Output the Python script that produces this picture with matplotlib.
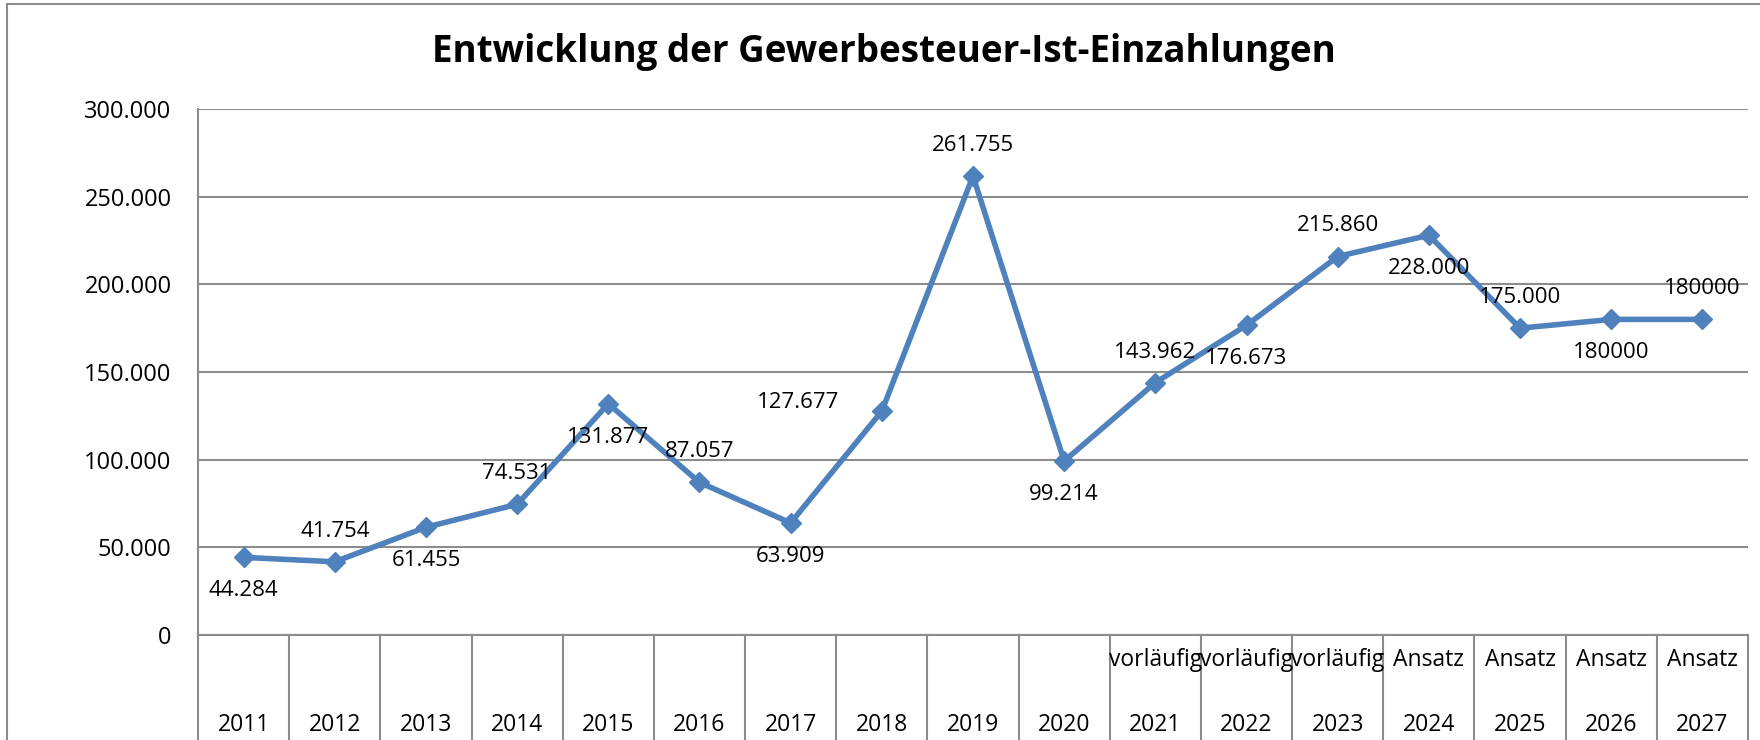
import numpy as np
import matplotlib
matplotlib.use("Agg")
import matplotlib.pyplot as plt
from matplotlib.patches import Rectangle

plt.rcParams['font.family'] = ['Open Sans', 'DejaVu Sans']

# Daten
jahre = ['2011', '2012', '2013', '2014', '2015', '2016', '2017', '2018', '2019',
         '2020', '2021', '2022', '2023', '2024', '2025', '2026', '2027']
zusatz = ['', '', '', '', '', '', '', '', '', '',
          'vorläufig', 'vorläufig', 'vorläufig', 'Ansatz', 'Ansatz', 'Ansatz', 'Ansatz']
werte = [44284, 41754, 61455, 74531, 131877, 87057, 63909, 127677, 261755,
         99214, 143962, 176673, 215860, 228000, 175000, 180000, 180000]
beschriftung = ['44.284', '41.754', '61.455', '74.531', '131.877', '87.057', '63.909',
                '127.677', '261.755', '99.214', '143.962', '176.673', '215.860',
                '228.000', '175.000', '180000', '180000']
# Lage der Beschriftung: o = oben, u = unten, l = links
lage = ['u', 'o', 'u', 'o', 'u', 'o', 'u', 'l', 'o', 'u', 'o', 'u', 'o', 'u', 'o', 'u', 'o']
yticks = [0, 50000, 100000, 150000, 200000, 250000, 300000]

blau = '#4F81BD'
grau = '#8C8C8C'

W, H = 1760, 740
fig = plt.figure(figsize=(W / 100, H / 100), dpi=100)

# Rahmen des Diagramms (geht über den Rand hinaus)
fig.patches.append(Rectangle((7 / W, -0.1), 1.2, (H - 4) / H + 0.1, transform=fig.transFigure,
                             fill=False, edgecolor=grau, linewidth=1.5))

ax = fig.add_axes([198 / W, (H - 635) / H, 1550 / W, 526 / H])
x = np.arange(len(jahre))

ax.set_xlim(-0.5, len(jahre) - 0.5)
ax.set_ylim(0, 300000)
ax.set_yticks(yticks)
ax.set_yticklabels(['{:,}'.format(v).replace(',', '.') for v in yticks], fontsize=17)
ax.tick_params(axis='y', length=0, pad=19)
ax.set_xticks([])
ax.grid(axis='y', color=grau, linewidth=1.5)
ax.set_axisbelow(True)
for s in ['top', 'right']:
    ax.spines[s].set_visible(False)
ax.spines['left'].set_color(grau)
ax.spines['left'].set_linewidth(1.5)
ax.spines['bottom'].set_color(grau)
ax.spines['bottom'].set_linewidth(1.5)

ax.plot(x, werte, color=blau, linewidth=4, marker='D', markersize=10,
        markerfacecolor=blau, markeredgecolor=blau, zorder=3)

for xi, v, t, l in zip(x, werte, beschriftung, lage):
    if l == 'o':
        ax.annotate(t, (xi, v), xytext=(0, 22), textcoords='offset points',
                    ha='center', va='center', fontsize=16)
    elif l == 'u':
        ax.annotate(t, (xi, v), xytext=(0, -24), textcoords='offset points',
                    ha='center', va='center', fontsize=16)
    else:
        ax.annotate(t, (xi, v), xytext=(-60, 6), textcoords='offset points',
                    ha='center', va='center', fontsize=16)

# Kategorienachse mit Gitterlinien
tr = ax.get_xaxis_transform()
for b in np.arange(-0.5, len(jahre), 1.0):
    ax.plot([b, b], [0, -0.25], transform=tr, color=grau, linewidth=1.5, clip_on=False)
for xi, j, z in zip(x, jahre, zusatz):
    ax.text(xi, -25 / 526, z, transform=tr, ha='center', va='center', fontsize=16.5)
    ax.text(xi, -90 / 526, j, transform=tr, ha='center', va='center', fontsize=16.5)

fig.text(884 / W, 1 - 52 / H, 'Entwicklung der Gewerbesteuer-Ist-Einzahlungen',
         ha='center', va='center', fontsize=26.5, fontweight='bold')

fig.savefig('out.png', dpi=100)
